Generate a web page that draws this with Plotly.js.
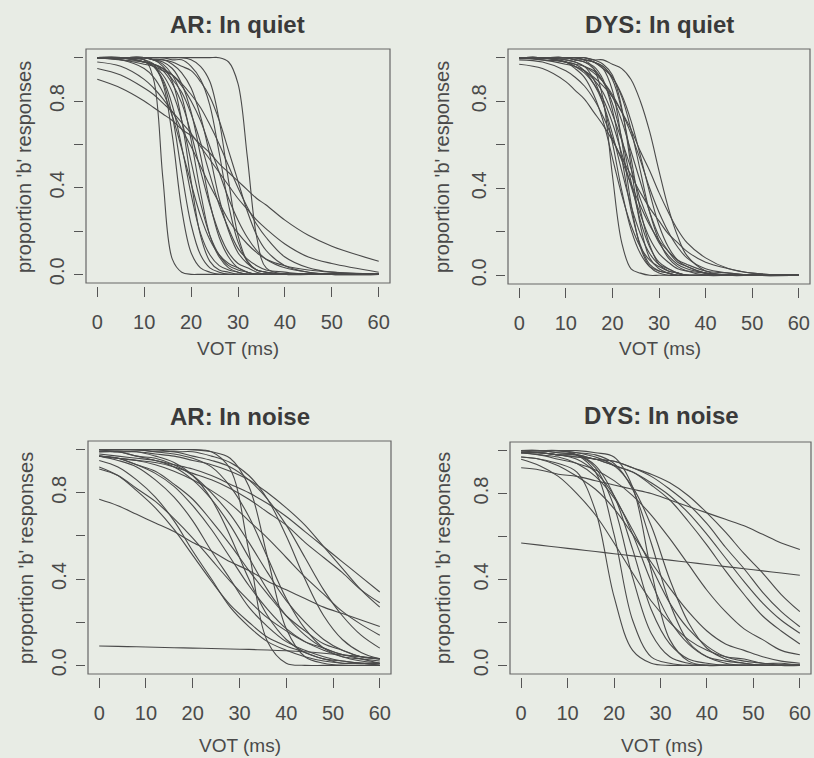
<!DOCTYPE html>
<html><head><meta charset="utf-8">
<script src="https://cdn.plot.ly/plotly-3.0.1.min.js"></script>
<style>html,body{margin:0;padding:0;background:#e8ece5;} #chart{width:814px;height:758px;}</style>
</head><body><div id="chart"></div>
<script>
// ---------------- data ----------------
const VOT_QUIET = [0,5,10,12,14,16,18,20,22,24,26,28,30,32,34,36,40,45,50,60];
const VOT_NOISE = [0,4,8,12,16,20,24,28,32,36,40,44,48,52,56,60];

const AR_QUIET = [
  [1,1,0.99,0.90,0.44,0.07,0.01,0,0,0,0,0,0,0,0,0,0,0,0,0],
  [1,1,1,1,1,1,1,1,1,1,1,0.98,0.88,0.54,0.17,0.03,0,0,0,0],
  [0.90,0.86,0.80,0.77,0.74,0.71,0.67,0.64,0.60,0.56,0.51,0.47,0.43,0.39,0.35,0.32,0.25,0.18,0.13,0.06],
  [0.95,0.92,0.86,0.83,0.79,0.75,0.70,0.65,0.59,0.53,0.47,0.41,0.35,0.30,0.25,0.21,0.14,0.08,0.05,0.01],
  [0.98,0.96,0.90,0.86,0.81,0.75,0.67,0.59,0.50,0.41,0.33,0.25,0.19,0.14,0.10,0.07,0.04,0.02,0.01,0],
  [1,1,0.99,0.97,0.88,0.64,0.30,0.10,0.03,0.01,0,0,0,0,0,0,0,0,0,0],
  [1,1,0.99,0.96,0.89,0.73,0.47,0.23,0.09,0.03,0.01,0,0,0,0,0,0,0,0,0],
  [1,1,0.98,0.96,0.90,0.78,0.59,0.37,0.19,0.09,0.04,0.02,0.01,0,0,0,0,0,0,0],
  [1,1,1,0.99,0.96,0.89,0.71,0.43,0.18,0.06,0.02,0.01,0,0,0,0,0,0,0,0],
  [1,1,0.98,0.96,0.92,0.84,0.71,0.52,0.33,0.18,0.09,0.04,0.02,0.01,0,0,0,0,0,0],
  [1,1,1,0.99,0.97,0.92,0.82,0.62,0.38,0.18,0.08,0.03,0.01,0,0,0,0,0,0,0],
  [1,1,0.98,0.97,0.94,0.88,0.79,0.65,0.48,0.32,0.19,0.10,0.05,0.03,0.01,0,0,0,0,0],
  [1,1,1,0.99,0.98,0.95,0.88,0.75,0.55,0.33,0.17,0.08,0.03,0.01,0,0,0,0,0,0],
  [1,1,0.98,0.97,0.95,0.90,0.84,0.74,0.61,0.46,0.32,0.21,0.12,0.07,0.04,0.02,0.01,0,0,0],
  [1,1,1,0.99,0.99,0.97,0.93,0.86,0.73,0.55,0.35,0.20,0.10,0.05,0.02,0.01,0,0,0,0],
  [1,0.99,0.98,0.97,0.95,0.92,0.87,0.80,0.71,0.59,0.47,0.35,0.25,0.17,0.11,0.07,0.03,0.01,0,0],
  [1,1,1,1,1,0.99,0.99,0.96,0.90,0.78,0.56,0.32,0.15,0.06,0.02,0.01,0,0,0,0],
  [1,1,1,1,1,1,1,0.99,0.96,0.89,0.71,0.43,0.18,0.06,0.02,0.01,0,0,0,0],
  [1,1,1,0.99,0.99,0.98,0.96,0.94,0.89,0.82,0.71,0.57,0.43,0.29,0.18,0.11,0.04,0.01,0,0],
  [1,0.99,0.95,0.91,0.84,0.73,0.58,0.42,0.27,0.16,0.09,0.05,0.03,0.01,0,0,0,0,0,0],
  [1,0.99,0.97,0.96,0.94,0.92,0.88,0.83,0.77,0.69,0.60,0.50,0.40,0.31,0.23,0.17,0.08,0.03,0.01,0]
];

const DYS_QUIET = [
  [1,1,1,1,0.99,0.95,0.81,0.46,0.15,0.03,0.01,0,0,0,0,0,0,0,0,0],
  [1,1,1,1,1,0.99,0.99,0.97,0.95,0.90,0.80,0.66,0.48,0.31,0.18,0.09,0.02,0,0,0],
  [0.97,0.95,0.89,0.85,0.81,0.75,0.69,0.62,0.54,0.46,0.38,0.31,0.25,0.19,0.15,0.11,0.06,0.03,0.01,0],
  [0.99,0.98,0.94,0.91,0.87,0.81,0.73,0.63,0.53,0.42,0.32,0.23,0.16,0.11,0.07,0.05,0.02,0.01,0,0],
  [1,1,0.99,0.98,0.96,0.90,0.79,0.61,0.39,0.21,0.10,0.04,0.02,0.01,0,0,0,0,0,0],
  [1,1,0.98,0.97,0.94,0.88,0.79,0.65,0.48,0.32,0.19,0.10,0.05,0.03,0.01,0,0,0,0,0],
  [1,1,1,0.99,0.98,0.96,0.90,0.76,0.54,0.30,0.14,0.05,0.02,0.01,0,0,0,0,0,0],
  [1,1,0.98,0.96,0.93,0.88,0.81,0.70,0.56,0.41,0.28,0.17,0.10,0.06,0.03,0.02,0.01,0,0,0],
  [1,1,1,0.99,0.98,0.95,0.89,0.79,0.63,0.43,0.25,0.13,0.06,0.03,0.01,0,0,0,0,0],
  [1,0.99,0.98,0.96,0.94,0.90,0.84,0.74,0.62,0.49,0.35,0.24,0.15,0.09,0.05,0.03,0.01,0,0,0],
  [1,1,1,1,0.99,0.98,0.96,0.90,0.76,0.54,0.30,0.14,0.05,0.02,0.01,0,0,0,0,0],
  [1,1,0.99,0.98,0.96,0.94,0.89,0.82,0.71,0.57,0.43,0.29,0.18,0.11,0.06,0.04,0.01,0,0,0],
  [1,1,1,1,0.99,0.98,0.96,0.91,0.82,0.67,0.48,0.29,0.16,0.08,0.04,0.02,0,0,0,0],
  [1,1,0.98,0.97,0.96,0.93,0.89,0.83,0.75,0.65,0.53,0.40,0.29,0.20,0.13,0.08,0.03,0.01,0,0],
  [1,0.99,0.97,0.96,0.94,0.91,0.87,0.82,0.75,0.67,0.57,0.48,0.38,0.29,0.21,0.15,0.08,0.03,0.01,0],
  [1,1,0.98,0.95,0.91,0.83,0.71,0.54,0.37,0.23,0.13,0.07,0.04,0.02,0.01,0,0,0,0,0],
  [1,1,1,1,1,0.99,0.97,0.92,0.77,0.50,0.23,0.08,0.03,0.01,0,0,0,0,0,0],
  [1,1,1,1,1,0.98,0.95,0.85,0.62,0.33,0.13,0.04,0.01,0,0,0,0,0,0,0],
  [1,1,1,0.99,0.99,0.98,0.95,0.91,0.83,0.71,0.55,0.38,0.23,0.13,0.07,0.04,0.01,0,0,0]
];

const AR_NOISE = [
  [0.09,0.088,0.086,0.084,0.082,0.080,0.078,0.076,0.074,0.071,0.068,0.063,0.056,0.048,0.040,0.032],
  [0.77,0.74,0.70,0.66,0.62,0.57,0.53,0.48,0.44,0.39,0.35,0.31,0.27,0.24,0.21,0.18],
  [0.92,0.88,0.81,0.73,0.63,0.51,0.39,0.28,0.20,0.13,0.09,0.06,0.03,0.02,0.01,0.01],
  [0.91,0.88,0.82,0.76,0.68,0.59,0.49,0.39,0.30,0.22,0.16,0.11,0.08,0.05,0.04,0.03],
  [0.97,0.95,0.92,0.86,0.78,0.67,0.53,0.40,0.27,0.18,0.11,0.07,0.04,0.02,0.01,0.01],
  [0.97,0.96,0.93,0.89,0.83,0.74,0.63,0.50,0.37,0.26,0.17,0.11,0.07,0.04,0.03,0.02],
  [0.97,0.96,0.93,0.90,0.84,0.77,0.67,0.56,0.44,0.33,0.23,0.16,0.10,0.07,0.04,0.03],
  [0.99,0.99,0.97,0.95,0.92,0.86,0.77,0.65,0.50,0.35,0.23,0.14,0.08,0.05,0.03,0.01],
  [0.99,0.99,0.97,0.96,0.93,0.88,0.80,0.70,0.57,0.43,0.30,0.20,0.12,0.07,0.04,0.03],
  [1,1,1,1,1,1,0.99,0.91,0.53,0.11,0.01,0,0,0,0,0],
  [1,1,1,1,1,1,0.99,0.96,0.83,0.50,0.17,0.04,0.01,0,0,0],
  [0.98,0.97,0.96,0.95,0.93,0.91,0.88,0.84,0.80,0.75,0.69,0.62,0.55,0.48,0.41,0.34],
  [0.99,0.99,0.99,0.98,0.97,0.95,0.93,0.90,0.86,0.80,0.73,0.65,0.55,0.45,0.35,0.27],
  [0.97,0.96,0.95,0.94,0.92,0.89,0.86,0.82,0.77,0.71,0.65,0.57,0.50,0.43,0.35,0.29],
  [1,1,1,0.99,0.99,0.97,0.95,0.92,0.86,0.77,0.65,0.50,0.35,0.23,0.14,0.08],
  [1,1,1,1,0.99,0.99,0.97,0.94,0.88,0.77,0.60,0.40,0.23,0.12,0.06,0.03],
  [0.97,0.96,0.95,0.93,0.90,0.86,0.81,0.75,0.67,0.59,0.50,0.41,0.33,0.25,0.19,0.14],
  [0.95,0.92,0.86,0.78,0.67,0.53,0.40,0.27,0.18,0.11,0.07,0.04,0.02,0.01,0.01,0],
  [1,1,1,0.99,0.98,0.96,0.92,0.83,0.69,0.50,0.31,0.17,0.08,0.04,0.02,0.01],
  [1,0.99,0.99,0.97,0.94,0.88,0.77,0.60,0.40,0.23,0.12,0.06,0.03,0.01,0.01,0]
];

const DYS_NOISE = [
  [0.57,0.56,0.55,0.54,0.53,0.52,0.51,0.50,0.49,0.48,0.47,0.46,0.45,0.44,0.43,0.42],
  [0.92,0.91,0.89,0.88,0.86,0.84,0.82,0.80,0.77,0.74,0.71,0.68,0.65,0.61,0.57,0.54],
  [0.97,0.96,0.94,0.90,0.72,0.32,0.07,0.01,0,0,0,0,0,0,0,0],
  [1,1,1,0.98,0.90,0.61,0.21,0.04,0.01,0,0,0,0,0,0,0],
  [1,1,0.99,0.98,0.92,0.74,0.41,0.15,0.04,0.01,0,0,0,0,0,0],
  [1,1,0.99,0.98,0.93,0.79,0.54,0.26,0.10,0.03,0.01,0,0,0,0,0],
  [1,0.99,0.98,0.96,0.90,0.79,0.61,0.39,0.21,0.10,0.04,0.02,0.01,0,0,0],
  [0.99,0.98,0.97,0.94,0.88,0.78,0.63,0.46,0.29,0.17,0.09,0.04,0.02,0.01,0,0],
  [1,1,1,0.99,0.98,0.94,0.82,0.57,0.29,0.11,0.04,0.01,0,0,0,0],
  [1,1,1,0.99,0.97,0.93,0.83,0.65,0.40,0.20,0.08,0.03,0.01,0,0,0],
  [0.97,0.96,0.93,0.88,0.82,0.73,0.61,0.48,0.36,0.25,0.16,0.10,0.07,0.04,0.02,0.01],
  [0.99,0.98,0.96,0.94,0.91,0.86,0.79,0.70,0.59,0.47,0.35,0.25,0.17,0.12,0.07,0.05],
  [0.99,0.99,0.98,0.98,0.96,0.95,0.92,0.89,0.85,0.79,0.71,0.62,0.52,0.43,0.33,0.25],
  [0.99,0.99,0.98,0.98,0.96,0.95,0.92,0.88,0.82,0.75,0.66,0.55,0.45,0.34,0.25,0.18],
  [0.99,0.99,0.98,0.97,0.96,0.93,0.90,0.85,0.79,0.71,0.61,0.50,0.39,0.29,0.21,0.15],
  [0.99,0.99,0.98,0.97,0.96,0.93,0.90,0.84,0.77,0.67,0.56,0.44,0.33,0.23,0.16,0.10],
  [0.96,0.93,0.88,0.80,0.70,0.57,0.43,0.30,0.20,0.12,0.07,0.04,0.03,0.01,0.01,0],
  [1,1,1,1,0.99,0.97,0.83,0.44,0.12,0.02,0,0,0,0,0,0]
];

const PANEL_TITLES = ["AR: In quiet", "DYS: In quiet", "AR: In noise", "DYS: In noise"];
const X_TICKS = [0, 10, 20, 30, 40, 50, 60];
const Y_TICKS = [0, 0.2, 0.4, 0.6, 0.8, 1.0];
const Y_TICK_TEXT = ["0.0", "", "0.4", "", "0.8", ""];
const X_TITLE = "VOT (ms)";
const Y_TITLE = "proportion 'b' responses";

// ---------------- layout geometry (pixels) ----------------
const W = 814, H = 758;
const FONT = "Liberation Sans, Arial, Helvetica, sans-serif";
const BG = "#e8ece5";
const LINE_COL = "#4a4a4a";
const panels = [
  {data: AR_QUIET,  grid: VOT_QUIET, box: [86, 49, 390, 283],  title: [238, 25],  xt: [238, 348], yt: [24, 167]},
  {data: DYS_QUIET, grid: VOT_QUIET, box: [508, 49, 810, 284], title: [659, 24],  xt: [660, 348], yt: [442, 167]},
  {data: AR_NOISE,  grid: VOT_NOISE, box: [88, 441, 391, 674], title: [240, 416], xt: [240, 745], yt: [26, 558]},
  {data: DYS_NOISE, grid: VOT_NOISE, box: [510, 442, 811, 674],title: [661, 415], xt: [662, 745], yt: [443, 558]}
];

const traces = [];
const layout = {
  width: W, height: H,
  margin: {l: 0, r: 0, t: 0, b: 0},
  paper_bgcolor: BG, plot_bgcolor: BG,
  showlegend: false,
  font: {family: FONT, color: "#444"},
  shapes: [], annotations: []
};

panels.forEach((p, i) => {
  const sfx = i === 0 ? "" : String(i + 1);
  const [l, t, r, b] = p.box;
  p.data.forEach(curve => {
    traces.push({
      type: "scatter", mode: "lines",
      x: p.grid, y: curve,
      xaxis: "x" + sfx, yaxis: "y" + sfx,
      line: {color: LINE_COL, width: 1.1, shape: "spline", smoothing: 1},
      hoverinfo: "skip", showlegend: false
    });
  });
  layout["xaxis" + sfx] = {
    domain: [l / W, r / W], range: [-2.4, 62.4],
    anchor: "free", position: 1 - (b + 3) / H,
    tickmode: "array", tickvals: X_TICKS,
    ticks: "outside", ticklen: 10, tickwidth: 1, tickcolor: "#555",
    ticklabelstandoff: 8,
    showline: false, showgrid: false, zeroline: false,
    tickfont: {family: FONT, size: 20, color: "#4a4a4a"},
    fixedrange: true
  };
  layout["yaxis" + sfx] = {
    domain: [1 - b / H, 1 - t / H], range: [-0.04, 1.04],
    anchor: "free", position: (l - 3) / W,
    tickmode: "array", tickvals: Y_TICKS, ticktext: Y_TICK_TEXT,
    tickangle: -90,
    ticks: "outside", ticklen: 9, tickwidth: 1, tickcolor: "#555",
    ticklabelstandoff: 2,
    showline: false, showgrid: false, zeroline: false,
    tickfont: {family: FONT, size: 20, color: "#4a4a4a"},
    fixedrange: true
  };
  layout.shapes.push({
    type: "rect", xref: "x" + sfx + " domain", yref: "y" + sfx + " domain",
    x0: 0, x1: 1, y0: 0, y1: 1, layer: "above",
    line: {color: "#666", width: 1.2}
  });
  layout.annotations.push({
    text: "<b>" + PANEL_TITLES[i] + "</b>", showarrow: false,
    xref: "paper", yref: "paper", x: p.title[0] / W, y: 1 - p.title[1] / H,
    xanchor: "center", yanchor: "middle",
    font: {family: FONT, size: 24, color: "#3a3a3a"}
  });
  layout.annotations.push({
    text: X_TITLE, showarrow: false,
    xref: "paper", yref: "paper", x: p.xt[0] / W, y: 1 - p.xt[1] / H,
    xanchor: "center", yanchor: "middle",
    font: {family: FONT, size: 19, color: "#4a4a4a"}
  });
  layout.annotations.push({
    text: Y_TITLE, showarrow: false, textangle: -90,
    xref: "paper", yref: "paper", x: p.yt[0] / W, y: 1 - p.yt[1] / H,
    xanchor: "center", yanchor: "middle",
    font: {family: FONT, size: 20, color: "#4a4a4a"}
  });
});

Plotly.newPlot("chart", traces, layout, {displayModeBar: false, staticPlot: true});
</script>
</body></html>
